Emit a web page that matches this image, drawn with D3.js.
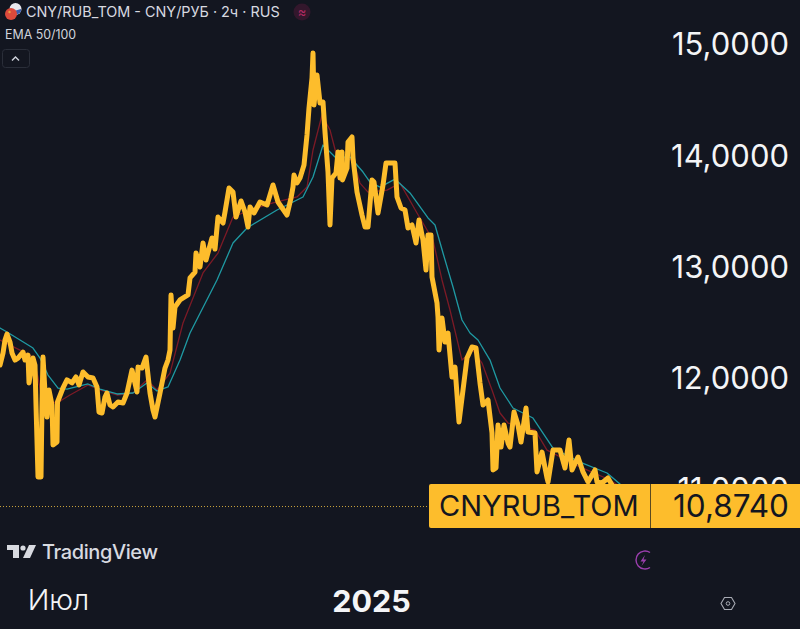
<!DOCTYPE html>
<html lang="en">
<head>
<meta charset="UTF-8">
<title>CNY/RUB_TOM</title>
<script src="https://d3js.org/d3.v7.min.js"></script>
<style>
  html, body { margin: 0; padding: 0; background: #131620; }
  svg { display: block; font-family: Inter, "Liberation Sans", sans-serif; }
</style>
</head>
<body>
<svg width="800" height="629"></svg>
<script>
// Bar number and price pairs
const priceBars = [0,3,5,7,10,12,15,18,23,25,28,29,33,35,36,38,41,42,43,45,47,49,52,53,57,57.5,63,67,72,76,79,83,88,93,97,99,102,105,107,110,113,118,123,127,132,137,138,142,146,150,153,155,160,165,168,170,171,173,175,180,188,190,195,196,200,203,206,212,215,218,223,225,229,233,236,241,245,248,250,254,260,267,273,278,287,291,293,294,297,300,304,307,309,312,313,314,317,320,323,325,328,330,332,336,338,340,342,342.5,347,348,352,353,357,362,365,368,372,374,378,383,386,395,397,401,405,408,412,416,419,423,426,428,431,432,437,438,439,442,445,448,452,455,459,467,472,476,480,483,488,492,493,496,498,501,504,508,510,514,518,521,526,528,535,537,542,547,548,553,560,565,569,572,578,583,588,595,597,602,608,612,625,650];
const priceValues = [12.123,12.231,12.348,12.402,12.330,12.231,12.168,12.186,12.240,12.168,12.213,11.962,12.186,12.123,11.764,11.117,11.117,11.764,12.195,11.881,11.656,11.899,11.764,11.404,11.431,11.791,11.917,11.989,11.962,12.016,11.944,12.061,12.016,12.007,11.926,11.701,11.692,11.836,11.872,11.764,11.746,11.791,11.782,11.872,12.078,11.881,12.105,12.096,12.195,11.872,11.719,11.656,11.872,12.096,12.168,12.258,12.753,12.456,12.645,12.708,12.753,12.906,12.959,13.130,13.004,13.220,13.067,13.265,13.166,13.454,13.400,13.499,13.714,13.679,13.454,13.598,13.499,13.364,13.544,13.490,13.589,13.562,13.742,13.589,13.472,13.625,13.724,13.831,13.760,13.804,13.921,14.191,14.434,14.703,14.928,14.461,14.730,14.479,14.488,14.218,13.858,13.382,13.804,13.849,14.038,13.804,14.038,13.787,13.894,14.128,14.173,13.984,13.679,13.472,13.364,13.364,13.787,13.769,13.490,13.741,13.939,13.939,13.634,13.535,13.517,13.355,13.382,13.220,13.427,13.247,12.977,13.292,13.292,12.914,12.681,12.555,12.258,12.546,12.330,12.411,12.016,12.105,11.611,12.186,12.285,12.276,11.961,11.764,11.809,11.512,11.180,11.198,11.584,11.386,11.584,11.422,11.386,11.701,11.584,11.431,11.737,11.521,11.512,11.162,11.341,11.108,11.072,11.359,11.359,11.198,11.449,11.180,11.296,11.162,11.072,11.180,11.072,11.063,11.108,11.045,10.910,10.874];

const ema100Bars = [0,7,20,33,40,48,58,67,88,100,117,133,147,157,168,180,190,217,233,247,277,303,313,323,335,350,363,370,380,395,410,428,435,443,453,462,470,478,490,500,513,533,553,580,607,620,640];
const ema100Values = [12.456,12.420,12.348,12.276,12.186,12.033,11.916,11.907,11.953,11.907,11.863,11.872,11.962,11.890,11.926,12.168,12.411,12.887,13.220,13.355,13.517,13.634,13.814,14.101,13.993,13.993,13.858,13.768,13.723,13.795,13.670,13.445,13.382,13.130,12.825,12.528,12.411,12.348,12.168,11.917,11.737,11.647,11.377,11.251,11.153,11.054,10.910];

const ema50Bars = [0,20,33,38,42,57,70,88,100,117,133,147,157,170,183,203,218,233,250,273,297,307,313,322,330,337,353,360,368,387,400,417,433,442,450,462,473,482,492,500,508,535,547,580,610,640];
const ema50Values = [12.348,12.258,12.195,12.015,11.809,11.782,11.854,11.944,11.899,11.854,11.872,11.989,11.899,12.051,12.501,12.951,13.130,13.454,13.517,13.580,13.634,13.723,14.056,14.371,14.236,13.993,13.966,13.759,13.678,13.696,13.759,13.490,13.247,12.888,12.618,12.168,12.258,12.141,11.899,11.692,11.602,11.539,11.359,11.207,11.090,10.910];

const priceTicks = [15, 14, 13, 12, 11];
const timeTicks = [58, 371];
const timeLabels = ["Июл", "2025"];
const lastPrice = 10.874;
const tickerName = "CNYRUB_TOM";

const width = 800, height = 629;
const svg = d3.select("svg");

svg.append("rect").attr("width", width).attr("height", height).attr("fill", "#131620");

const x = d3.scaleLinear().domain([0, 800]).range([0, width]);
const y = d3.scaleLinear().domain([15, 11]).range([45, 490]);

// Axes, labels only
const fmt = d => d3.format(".4f")(d).replace(".", ",");

const yAxis = svg.append("g")
    .attr("transform", "translate(789,0)")
    .call(d3.axisLeft(y).tickValues(priceTicks).tickSize(0).tickPadding(0).tickFormat(fmt));
yAxis.select(".domain").remove();
yAxis.selectAll("text")
    .attr("fill", "#f4f5f7")
    .style("font-size", "31px")
    .style("font-family", "Inter");

const xAxis = svg.append("g")
    .attr("transform", "translate(0,590)")
    .call(d3.axisBottom(x).tickValues(timeTicks).tickSize(0).tickPadding(0).tickFormat((d, i) => timeLabels[i]));
xAxis.select(".domain").remove();
xAxis.selectAll("text")
    .attr("fill", "#f4f5f7")
    .style("font-size", (d, i) => i === 1 ? "30.5px" : "28.5px")
    .style("font-family", "Inter")
    .style("font-weight", (d, i) => i === 1 ? 700 : 300);

// Lines
const line = d3.line().x(d => x(d[0])).y(d => y(d[1]));

function drawLine(bars, values, color, w) {
    svg.append("path")
        .datum(d3.zip(bars, values))
        .attr("d", line)
        .attr("fill", "none")
        .attr("stroke", color)
        .attr("stroke-width", w)
        .attr("stroke-linejoin", "round")
        .attr("stroke-linecap", "round");
}

drawLine(ema50Bars, ema50Values, "#7c1a26", 1.3);
drawLine(ema100Bars, ema100Values, "#1f9aa3", 1.3);
drawLine(priceBars, priceValues, "#fdbd2c", 5);

// Last price line and label
const lastY = y(lastPrice) + 2.5;
svg.append("line")
    .attr("x1", 0).attr("x2", 429)
    .attr("y1", lastY).attr("y2", lastY)
    .attr("stroke", "#c9a23c")
    .attr("stroke-width", 1)
    .attr("stroke-dasharray", "1 2");

svg.append("rect")
    .attr("x", 429).attr("y", 484)
    .attr("width", 375).attr("height", 44)
    .attr("rx", 2)
    .attr("fill", "#fdbd2c");
svg.append("line")
    .attr("x1", 650.5).attr("x2", 650.5)
    .attr("y1", 484).attr("y2", 528)
    .attr("stroke", "#5a4a20");
svg.append("text")
    .attr("x", 439).attr("y", 516)
    .attr("fill", "#131620")
    .style("font-size", "29px")
    .text(tickerName);
svg.append("text")
    .attr("x", 789).attr("y", 516.5)
    .attr("text-anchor", "end")
    .attr("fill", "#131620")
    .style("font-size", "31.5px")
    .text(fmt(lastPrice));

// Header
const flags = svg.append("g");
flags.append("circle").attr("cx", 15.5).attr("cy", 9).attr("r", 6).attr("fill", "#e8e8ee");
flags.append("path").attr("d", "M10.5 12 A6 6 0 0 0 21 11 L21 9 Z").attr("fill", "#3c5fb0");
flags.append("circle").attr("cx", 11).attr("cy", 14).attr("r", 6).attr("fill", "#dc4a3c");
flags.append("circle").attr("cx", 9.5).attr("cy", 12).attr("r", 1.2).attr("fill", "#e8a040");

svg.append("text")
    .attr("x", 26).attr("y", 17)
    .attr("fill", "#d8dae0")
    .style("font-size", "14.4px")
    .text("CNY/RUB_TOM - CNY/РУБ · 2ч · RUS");

svg.append("circle").attr("cx", 302).attr("cy", 12).attr("r", 8.5).attr("fill", "#33172c");
svg.append("text")
    .attr("x", 302).attr("y", 16.5)
    .attr("text-anchor", "middle")
    .attr("fill", "#b02a62")
    .style("font-size", "13px")
    .text("≈");

svg.append("text")
    .attr("x", 5).attr("y", 39)
    .attr("fill", "#d1d4dc")
    .style("font-size", "12.4px")
    .text("EMA 50/100");

svg.append("rect")
    .attr("x", 2.5).attr("y", 49.5)
    .attr("width", 27).attr("height", 18)
    .attr("rx", 3)
    .attr("fill", "none")
    .attr("stroke", "#2a2e39");
svg.append("path")
    .attr("d", "M12 60.5 L15.5 57 L19 60.5")
    .attr("fill", "none")
    .attr("stroke", "#d1d4dc")
    .attr("stroke-width", 1.4);

// TradingView mark
const logo = svg.append("g").attr("fill", "#d8dae0");
logo.append("path").attr("d", "M7 545 H19 V558 H13 V550 H7 Z");
logo.append("circle").attr("cx", 23).attr("cy", 548).attr("r", 2.6);
logo.append("path").attr("d", "M29 545 H36 L30 558 H23 Z");
svg.append("text")
    .attr("x", 42).attr("y", 559)
    .attr("fill", "#d8dae0")
    .style("font-size", "20px")
    .style("font-weight", 500)
    .style("letter-spacing", "-0.4px")
    .text("TradingView");

// Small icons at the bottom
svg.append("path")
    .attr("d", "M650 552.5 A9 9 0 1 0 650 567.5")
    .attr("fill", "none")
    .attr("stroke", "#9c3fae")
    .attr("stroke-width", 1.4);
svg.append("path")
    .attr("d", "M645 555 L640.5 561.5 H643.5 L641.5 566 L646.5 559.5 H643.5 Z")
    .attr("fill", "#9c3fae");

svg.append("path")
    .attr("d", "M724.5 597.5 H731.5 L735 603.5 L731.5 609.5 H724.5 L721 603.5 Z")
    .attr("fill", "none")
    .attr("stroke", "#a8abb4")
    .attr("stroke-width", 1.1);
svg.append("circle")
    .attr("cx", 728).attr("cy", 603.5).attr("r", 1.8)
    .attr("fill", "none")
    .attr("stroke", "#a8abb4");
</script>
</body>
</html>
